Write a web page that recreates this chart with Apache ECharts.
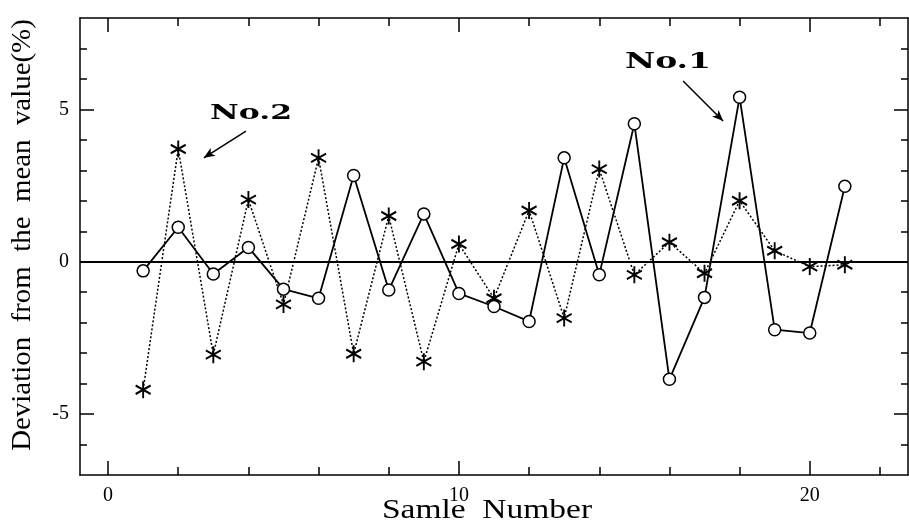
<!DOCTYPE html>
<html>
<head>
<meta charset="utf-8">
<script src="https://cdn.jsdelivr.net/npm/echarts@6/dist/echarts.min.js"></script>
<style>
    html, body { margin: 0; padding: 0; background: #fff; }
    #main { width: 909px; height: 531px; }
</style>
</head>
<body>
<div id="main"></div>
<script>
// data
const sampleNo = [1, 2, 3, 4, 5, 6, 7, 8, 9, 10, 11, 12, 13, 14, 15, 16, 17, 18, 19, 20, 21];
const no1Dev = [-0.3, 1.13, -0.4, 0.47, -0.9, -1.2, 2.83, -0.93, 1.57, -1.04, -1.47,
    -1.96, 3.41, -0.43, 4.53, -3.86, -1.17, 5.4, -2.23, -2.34, 2.48];
const no2Dev = [-4.2, 3.7, -3.05, 2.04, -1.4, 3.41, -3.02, 1.5, -3.28, 0.58, -1.2,
    1.68, -1.85, 3.04, -0.43, 0.64, -0.38, 2.0, 0.36, -0.16, -0.1];

const xMinorTicks = [0, 2, 4, 6, 8, 10, 12, 14, 16, 18, 20, 22];
const xMajorTicks = [0, 10, 20];
const yMinorTicks = [-6, -5, -4, -3, -2, -1, 0, 1, 2, 3, 4, 5, 6, 7];
const yMajorTicks = [-5, 0, 5];

// arrows pointing at the two series: [fromX, fromY, toX, toY]
const no1Arrow = [16.39, 5.93, 17.53, 4.62];
const no2Arrow = [3.93, 4.29, 2.73, 3.41];

const X_MIN = -0.8, X_MAX = 22.8, Y_MIN = -7, Y_MAX = 8;
const serif = '"Liberation Serif", "Times New Roman", serif';

// asterisk marker (6 arms)
const starPath = 'path://M0,-10L0,10M-8.66,-5L8.66,5M-8.66,5L8.66,-5';

function xAxisOf(position, ticks, len, labels, line) {
    return {
        type: 'value', position: position, min: X_MIN, max: X_MAX,
        axisLine: { show: line, onZero: false, lineStyle: { color: '#000', width: 1.5 } },
        axisTick: { show: true, inside: true, length: len, customValues: ticks,
            lineStyle: { color: '#000', width: 1.5 } },
        axisLabel: { show: labels, customValues: xMajorTicks, margin: 11, color: '#000',
            fontFamily: serif, fontSize: 20 },
        splitLine: { show: false }
    };
}
function yAxisOf(position, ticks, len, labels, line) {
    return {
        type: 'value', position: position, min: Y_MIN, max: Y_MAX,
        axisLine: { show: line, onZero: false, lineStyle: { color: '#000', width: 1.5 } },
        axisTick: { show: true, inside: true, length: len, customValues: ticks,
            lineStyle: { color: '#000', width: 1.5 } },
        axisLabel: { show: labels, customValues: yMajorTicks, margin: 11, color: '#000',
            fontFamily: serif, fontSize: 20 },
        splitLine: { show: false }
    };
}

let chart = echarts.init(document.getElementById('main'), null, { renderer: 'canvas' });

let option = {
    backgroundColor: '#fff',
    animation: false,
    grid: { left: 80, right: 1, top: 18, bottom: 56, containLabel: false },
    xAxis: [
        xAxisOf('bottom', xMinorTicks, 8, true, true),
        xAxisOf('bottom', xMajorTicks, 14, false, false),
        xAxisOf('top', xMinorTicks, 8, false, true),
        xAxisOf('top', xMajorTicks, 14, false, false)
    ],
    yAxis: [
        yAxisOf('left', yMinorTicks, 7, true, true),
        yAxisOf('left', yMajorTicks, 14, false, false),
        yAxisOf('right', yMinorTicks, 7, false, true),
        yAxisOf('right', yMajorTicks, 14, false, false)
    ],
    series: [
        {
            name: 'No.2',
            type: 'line',
            data: sampleNo.map((x, i) => [x, no2Dev[i]]),
            symbol: starPath,
            symbolSize: [15, 17],
            itemStyle: { color: '#000', borderColor: '#000', borderWidth: 2 },
            lineStyle: { color: '#000', width: 1.5, type: [2, 2] },
            z: 3,
            markLine: {
                silent: true,
                symbol: ['none', 'arrow'],
                symbolSize: [7, 11],
                label: { show: false },
                lineStyle: { color: '#000', width: 1.5, type: 'solid' },
                data: [
                    [{ coord: [no1Arrow[0], no1Arrow[1]] }, { coord: [no1Arrow[2], no1Arrow[3]] }],
                    [{ coord: [no2Arrow[0], no2Arrow[1]] }, { coord: [no2Arrow[2], no2Arrow[3]] }]
                ]
            }
        },
        {
            name: 'No.1',
            type: 'line',
            data: sampleNo.map((x, i) => [x, no1Dev[i]]),
            symbol: 'circle',
            symbolSize: 12,
            itemStyle: { color: '#fff', borderColor: '#000', borderWidth: 1.5 },
            lineStyle: { color: '#000', width: 1.8 },
            z: 4,
            markLine: {
                silent: true,
                symbol: 'none',
                label: { show: false },
                lineStyle: { color: '#000', width: 2, type: 'solid' },
                data: [{ yAxis: 0 }]
            }
        }
    ],
    graphic: [
        {
            type: 'text', x: 23, y: 235, rotation: Math.PI / 2, scaleX: 1.07,
            style: { text: 'Deviation  from  the  mean  value(%)', fill: '#000',
                font: '27px ' + serif, textAlign: 'center', textVerticalAlign: 'middle' }
        },
        {
            type: 'text', x: 487, y: 511, scaleX: 1.24,
            style: { text: 'Samle  Number', fill: '#000',
                font: '27px ' + serif, textAlign: 'center', textVerticalAlign: 'middle' }
        },
        {
            type: 'text', x: 251, y: 114, scaleX: 1.5,
            style: { text: 'No.2', fill: '#000',
                font: 'bold 21px "DejaVu Serif", serif', textAlign: 'center', textVerticalAlign: 'middle' }
        },
        {
            type: 'text', x: 668, y: 62, scaleX: 1.5,
            style: { text: 'No.1', fill: '#000',
                font: 'bold 22px "DejaVu Serif", serif', textAlign: 'center', textVerticalAlign: 'middle' }
        }
    ]
};

chart.setOption(option);
</script>
</body>
</html>
